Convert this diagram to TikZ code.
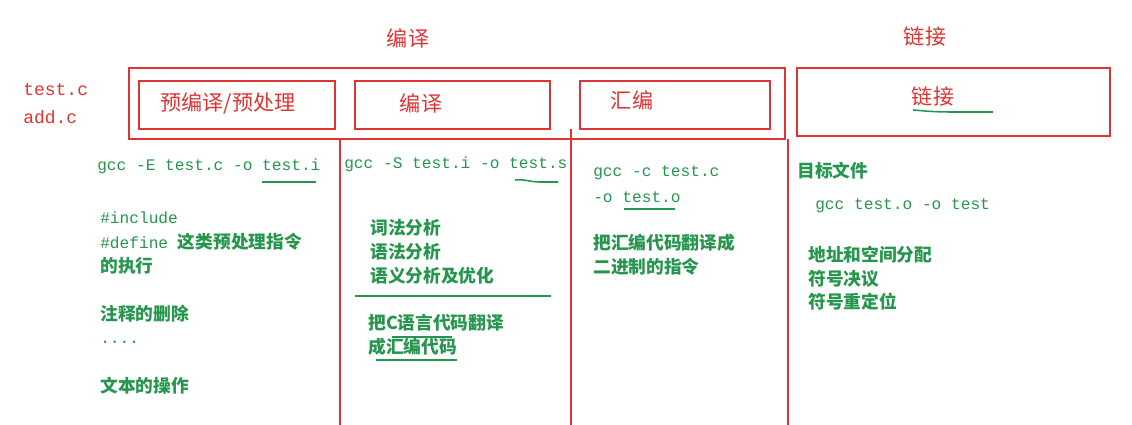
\documentclass[tikz,border=0pt]{standalone}
\usepackage{fontspec}
\setmainfont{Noto Sans CJK SC}
\setmonofont{Liberation Mono}
\definecolor{boxred}{RGB}{222,52,52}
\definecolor{notegreen}{RGB}{38,150,78}
\tikzset{
  frame/.style={draw=boxred, line width=1.4pt},
  divider/.style={draw=boxred, line width=1.1pt},
  title/.style={text=boxred, font=\fontsize{15}{16}\selectfont},
  code/.style={anchor=west, inner sep=0pt, text=notegreen, font=\ttfamily\fontsize{11.5}{12}\selectfont},
  note/.style={anchor=west, inner sep=0pt, text=notegreen, font=\bfseries\fontsize{12.6}{13}\selectfont},
  underl/.style={draw=notegreen, line width=1.1pt}
}
\begin{document}
\begin{tikzpicture}[x=0.025cm, y=-0.025cm]
  \useasboundingbox (0,0) rectangle (1132,425);

  % titles
  \node[title] (tcompile) at (408,38) {编译};
  \node[title] (tlink) at (925,36) {链接};

  % source files
  \node[anchor=west, inner sep=0pt, text=boxred, font=\ttfamily\fontsize{12.8}{13}\selectfont] (src1) at (23,90) {test.c};
  \node[anchor=west, inner sep=0pt, text=boxred, font=\ttfamily\fontsize{12.8}{13}\selectfont] (src2) at (23,117) {add.c};

  % boxes
  \draw[frame] (129,68) rectangle (785,139);
  \draw[frame] (139,81) rectangle (335,129);
  \draw[frame] (355,81) rectangle (550,129);
  \draw[frame] (580,81) rectangle (770,129);
  \draw[frame] (797,68) rectangle (1110,136);
  \node[title] (pre) at (228,103) {预编译/预处理};
  \node[title] (comp) at (421,103) {编译};
  \node[title] (asm) at (632,100) {汇编};
  \node[title] (link) at (933,96) {链接};

  % dividers
  \draw[divider] (340,139) -- (340,425);
  \draw[divider] (571,129) -- (571,425);
  \draw[divider] (788,139) -- (788,425);

  % preprocessing
  \node[code] (c1) at (97,166) {gcc -E test.c -o test.i};
  \node[code] (p1) at (100,218) {\#include};
  \node[code] (p2) at (100,242) {\#define {\rmfamily\bfseries\fontsize{12.6}{13}\selectfont 这类预处理指令}};
  \node[note] (p3) at (100,266) {的执行};
  \node[note] (p4) at (100,314) {注释的删除};
  \node[code] (p5) at (100,342) {....};
  \node[note] (p6) at (100,386) {文本的操作};

  % compiling
  \node[code] (c2) at (344,164) {gcc -S test.i -o test.s};
  \node[note] (q1) at (370,228) {词法分析};
  \node[note] (q2) at (370,252) {语法分析};
  \node[note] (q3) at (370,276) {语义分析及优化};
  \node[note] (q4) at (368,323) {把C语言代码翻译};
  \node[note] (q5) at (368,347) {成汇编代码};

  % assembling
  \node[code] (c3) at (593,173) {gcc -c test.c};
  \node[code] (c4) at (593,197) {-o test.o};
  \node[note] (r1) at (593,243) {把汇编代码翻译成};
  \node[note] (r2) at (593,267) {二进制的指令};

  % linking
  \node[note] (s0) at (797,171) {目标文件};
  \node[code] (c5) at (815,206) {gcc test.o -o test};
  \node[note] (s1) at (808,255) {地址和空间分配};
  \node[note] (s2) at (808,279) {符号决议};
  \node[note] (s3) at (808,302) {符号重定位};

  % underlines
  \draw[underl] (262,182) -- (316,182);
  \draw[underl] (515,180) .. controls (525,179) and (530,182) .. (540,182) -- (558,182);
  \draw[underl] (355,296) -- (551,296);
  \draw[underl] (392,337) -- (452,337);
  \draw[underl] (376,360) -- (457,360);
  \draw[underl] (624,209) -- (675,209);
  \draw[underl] (913,110) .. controls (925,111) and (935,112) .. (950,112) -- (993,112);
\end{tikzpicture}
\end{document}
